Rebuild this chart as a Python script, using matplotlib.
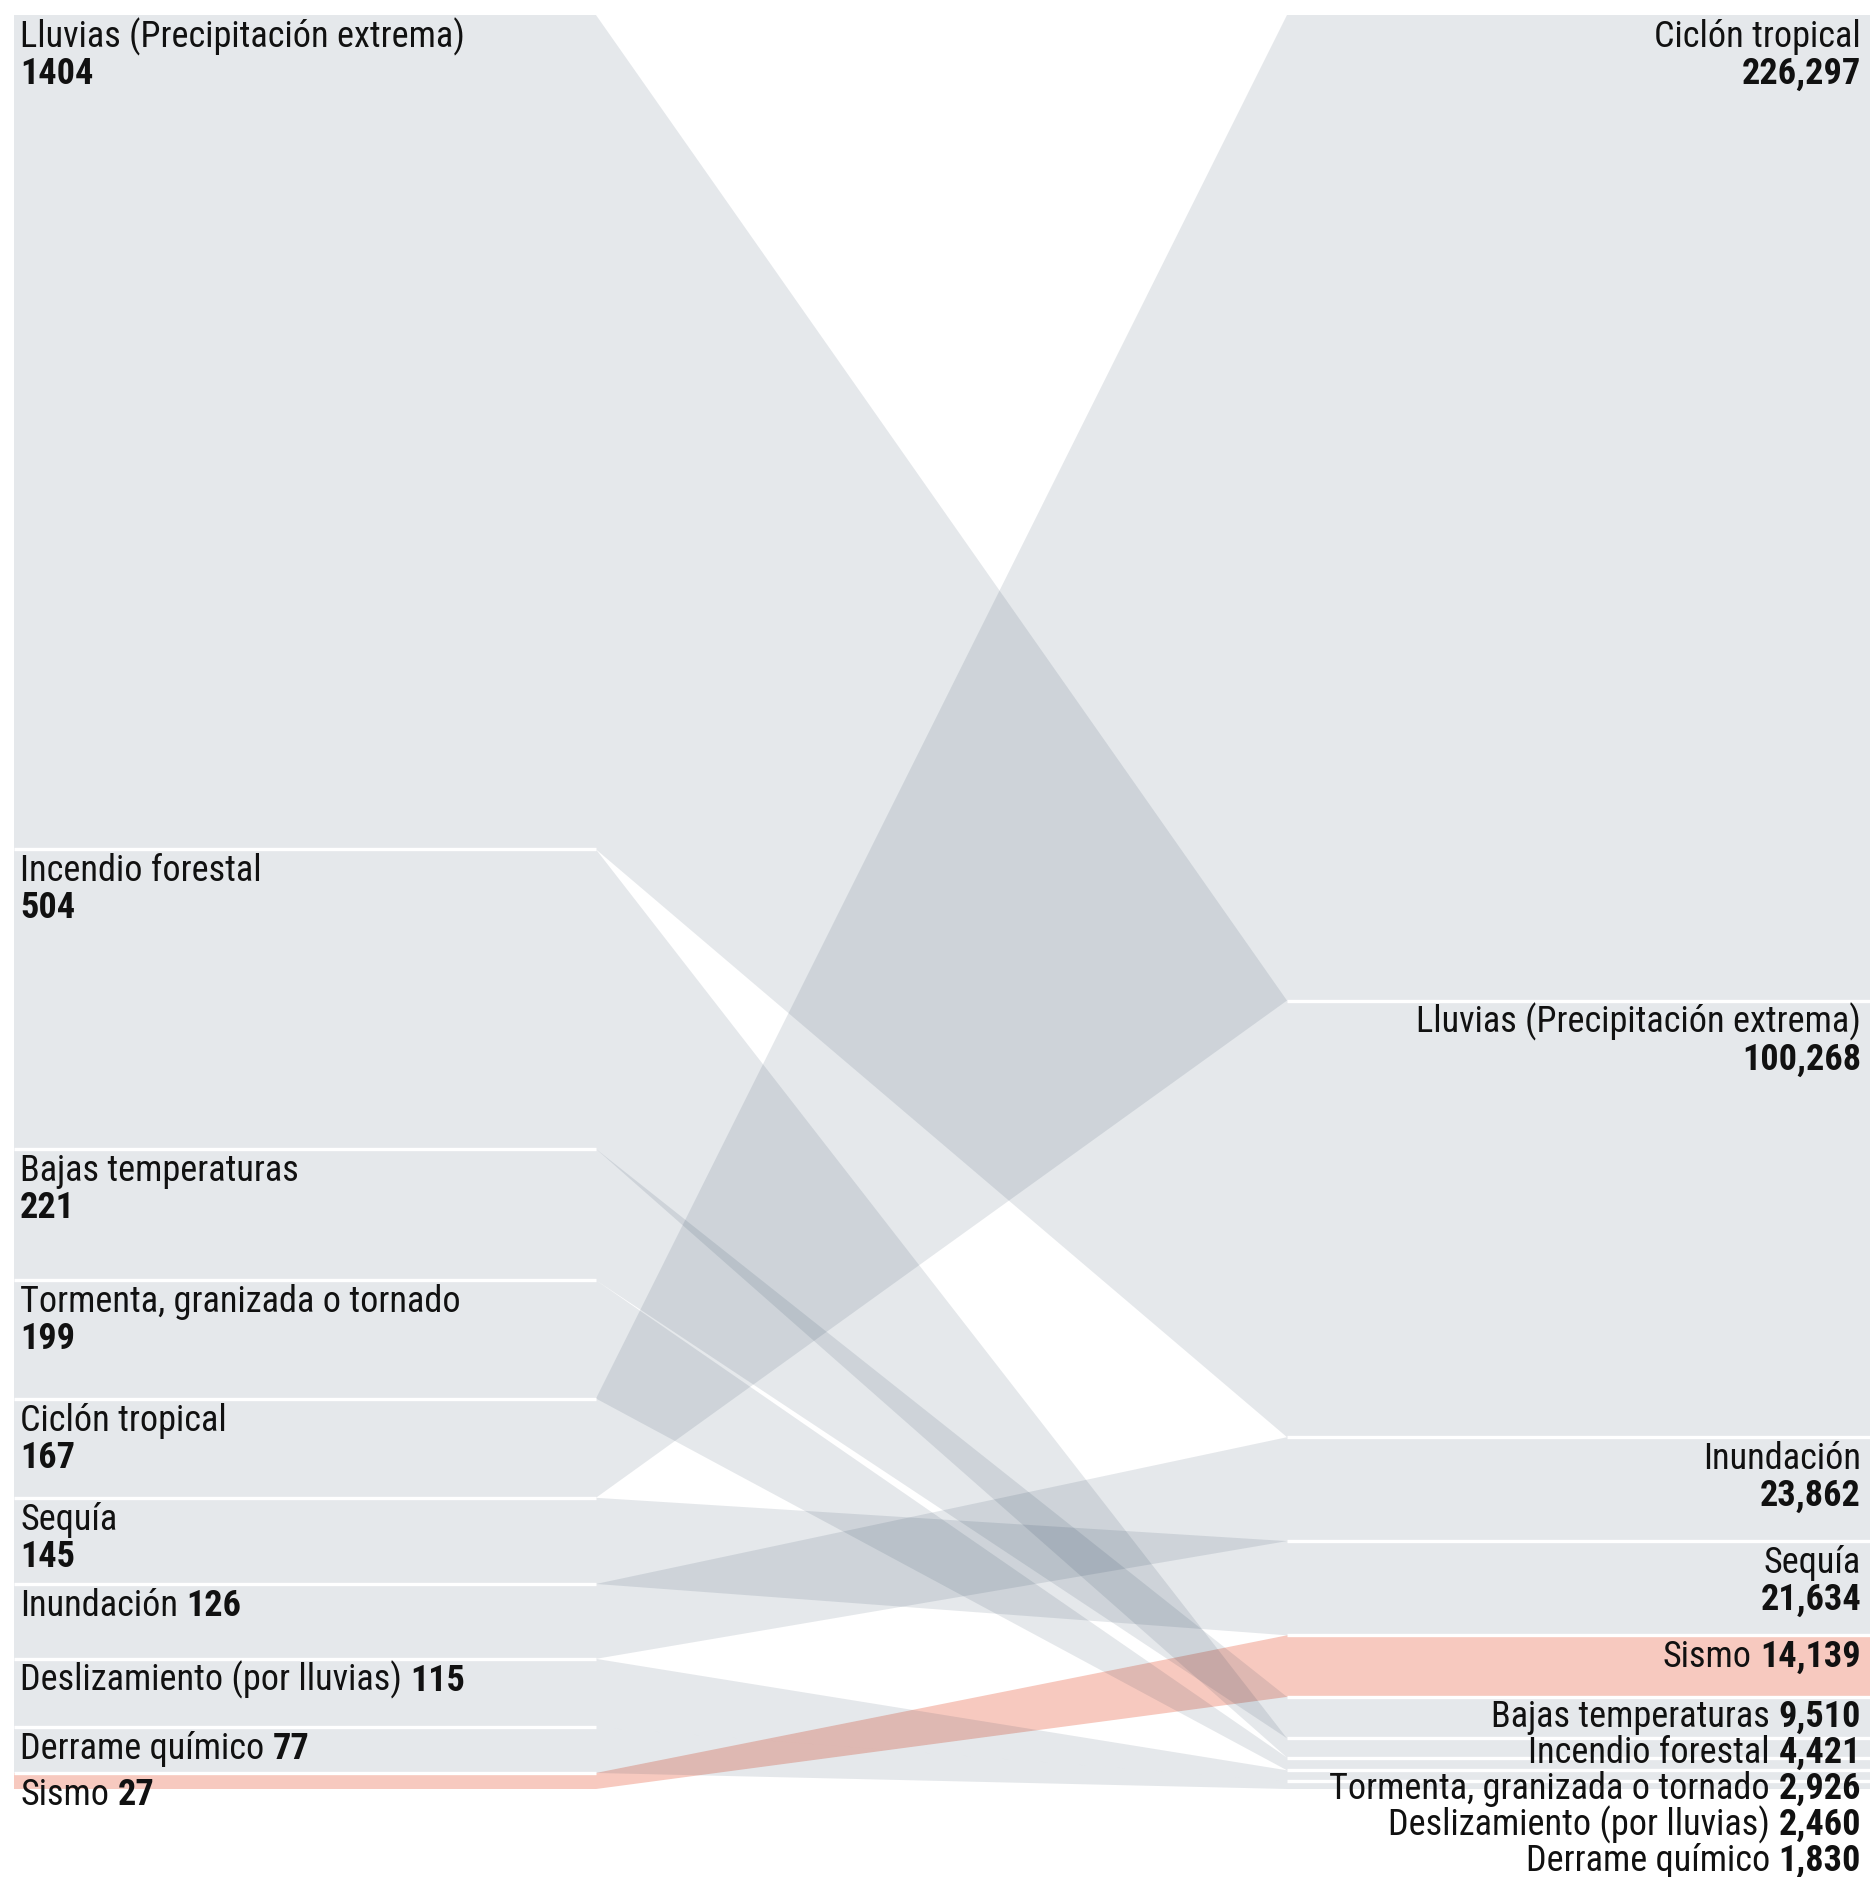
import matplotlib
matplotlib.use("Agg")
import matplotlib.pyplot as plt
from matplotlib import font_manager
from matplotlib.patches import Polygon

# columna izquierda: número de declaratorias por fenómeno
categorias = ["Lluvias (Precipitación extrema)", "Incendio forestal", "Bajas temperaturas",
              "Tormenta, granizada o tornado", "Ciclón tropical", "Sequía", "Inundación",
              "Deslizamiento (por lluvias)", "Derrame químico", "Sismo"]
declaratorias = [1404, 504, 221, 199, 167, 145, 126, 115, 77, 27]

# columna derecha: monto por fenómeno
orden_der = ["Ciclón tropical", "Lluvias (Precipitación extrema)", "Inundación", "Sequía",
             "Sismo", "Bajas temperaturas", "Incendio forestal",
             "Tormenta, granizada o tornado", "Deslizamiento (por lluvias)", "Derrame químico"]
montos = [226297, 100268, 23862, 21634, 14139, 9510, 4421, 2926, 2460, 1830]

resaltado = "Sismo"

# medidas en pixeles
W, H = 1872, 1877
XL0, XL1 = 14, 596
XR0, XR1 = 1287, 1870
Y_TOP, Y_BOT = 15, 1789

GRIS = (5 / 255, 35 / 255, 65 / 255)
SALMON = "#f7c9bf"
TEXTO = "#111111"

disponibles = {f.name for f in font_manager.fontManager.ttflist}
fuente = next((f for f in ["Roboto Condensed", "Liberation Sans Narrow", "Roboto"]
               if f in disponibles), "DejaVu Sans")
plt.rcParams["font.family"] = [fuente, "DejaVu Sans"]


def pila(valores):
    escala = (Y_BOT - Y_TOP) / sum(valores)
    tops, y = [], Y_TOP
    for v in valores:
        tops.append((y, y + v * escala))
        y += v * escala
    return tops


izq = dict(zip(categorias, pila(declaratorias)))
der = dict(zip(orden_der, pila(montos)))

fig = plt.figure(figsize=(W / 100, H / 100), dpi=100)
ax = fig.add_axes([0, 0, 1, 1])
ax.set_xlim(0, W)
ax.set_ylim(H, 0)
ax.axis("off")

for cat in categorias:
    lt, lb = izq[cat]
    rt, rb = der[cat]
    pts = [(XL0, lt), (XL1, lt), (XR0, rt), (XR1, rt),
           (XR1, rb), (XR0, rb), (XL1, lb), (XL0, lb)]
    if cat == resaltado:
        ax.add_patch(Polygon(pts, closed=True, facecolor=SALMON, edgecolor="none", zorder=1))
    else:
        ax.add_patch(Polygon(pts, closed=True, facecolor=GRIS, alpha=0.1,
                             edgecolor="none", zorder=2))

# líneas blancas entre bloques
for (_, b) in list(izq.values())[:-1]:
    ax.plot([XL0, XL1], [b, b], color="white", lw=2.4, zorder=3, solid_capstyle="butt")
for (_, b) in list(der.values())[:-1]:
    ax.plot([XR0, XR1], [b, b], color="white", lw=2.4, zorder=3, solid_capstyle="butt")

renderer = fig.canvas.get_renderer()

# tamaño de letra ajustado al ancho del rótulo más largo
prueba = ax.text(0, 0, categorias[0], fontsize=23)
ancho = prueba.get_window_extent(renderer).width
prueba.remove()
fs = 23 * 446 / ancho
esp = fs * 100 / 72 * 0.24

OFFSET, PASO, INTER, LIMITE = 32, 36, 37, 1871


def posiciones(nombres, bloques):
    # línea base de cada rótulo; los pequeños se apilan sin encimarse
    filas, ultimo = [], -1e9
    for nom in nombres:
        top, bot = bloques[nom]
        dos = bot - top >= 80
        base = max(top + OFFSET, ultimo + PASO)
        filas.append([base, dos])
        ultimo = base + (INTER if dos else 0)
    # si el último se sale por abajo, se sube el grupo apilado
    exceso = filas[-1][0] - LIMITE
    i = len(filas) - 1
    while exceso > 0 and i >= 0:
        filas[i][0] -= exceso
        if i > 0:
            fin_prev = filas[i - 1][0] + (INTER if filas[i - 1][1] else 0)
            exceso = fin_prev - (filas[i][0] - PASO)
        i -= 1
    return filas


def rotulos(nombres, valores, bloques, x, ha, fmt):
    for nom, val, (base, dos) in zip(nombres, valores, posiciones(nombres, bloques)):
        num = fmt(val)
        if dos:
            ax.text(x, base, nom, ha=ha, va="baseline", fontsize=fs, color=TEXTO, zorder=5)
            ax.text(x, base + INTER, num, ha=ha, va="baseline", fontsize=fs,
                    fontweight="bold", color=TEXTO, zorder=5)
        elif ha == "left":
            t = ax.text(x, base, nom, ha="left", va="baseline", fontsize=fs,
                        color=TEXTO, zorder=5)
            w = t.get_window_extent(renderer).width
            ax.text(x + w + esp, base, num, ha="left", va="baseline", fontsize=fs,
                    fontweight="bold", color=TEXTO, zorder=5)
        else:
            t = ax.text(x, base, num, ha="right", va="baseline", fontsize=fs,
                        fontweight="bold", color=TEXTO, zorder=5)
            w = t.get_window_extent(renderer).width
            ax.text(x - w - esp, base, nom, ha="right", va="baseline", fontsize=fs,
                    color=TEXTO, zorder=5)


rotulos(categorias, declaratorias, izq, 20, "left", lambda v: f"{v}")
rotulos(orden_der, montos, der, 1861, "right", lambda v: f"{v:,}")

fig.savefig("out.png", dpi=100, facecolor="white")
